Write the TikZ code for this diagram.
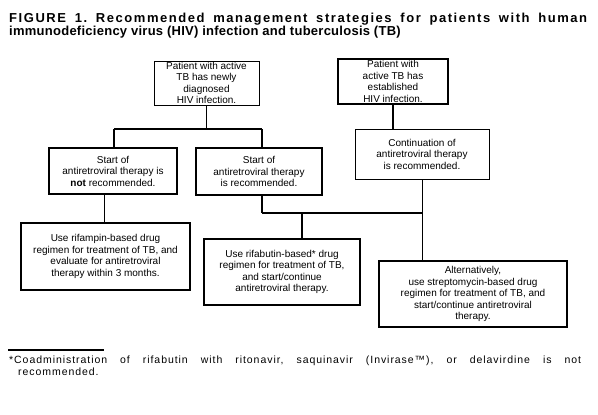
\documentclass[tikz,border=0pt]{standalone}
\usepackage{fontspec}
\setmainfont{Liberation Sans}
\newfontfamily\titlefont{Liberation Sans}[LetterSpace=2]
\newfontfamily\titlefontw{Liberation Sans}[LetterSpace=12]
\newfontfamily\notefont{Liberation Sans}[LetterSpace=9]
\frenchspacing
\begin{document}
\begin{tikzpicture}[x=1pt,y=-1pt,
  bx/.style={draw=black, align=center, inner sep=0pt, font=\fontsize{10}{11.5}\selectfont},
  thinb/.style={line width=0.8pt},
  medb/.style={line width=1.4pt},
  thickb/.style={line width=2pt},
  ln/.style={line width=0.8pt},
  lnm/.style={line width=1.3pt},
  lnt/.style={line width=2pt},
  ttl/.style={anchor=base west, inner sep=0pt, font=\titlefont\fontsize{13}{15}\selectfont\bfseries},
  ttlw/.style={anchor=base west, inner sep=0pt, font=\titlefontw\fontsize{13}{15}\selectfont\bfseries},
  fnote/.style={anchor=base west, inner sep=0pt, font=\notefont\fontsize{10.5}{12}\selectfont}]
\useasboundingbox (0,0) rectangle (598,415);
\fill[white] (0,0) rectangle (598,415);
% title
\node[ttlw] (t1) at (9,22)
  {\makebox[578pt][s]{FIGURE 1. Recommended management strategies for patients with human}};
\node[ttl] (t2) at (9,35)
  {immunodeficiency virus (HIV) infection and tuberculosis (TB)};
% boxes
\node[bx, thinb, minimum width=105pt, minimum height=44pt] (A) at (206.5,83)
  {Patient with active\\TB has newly\\diagnosed\\HIV infection.};
\node[bx, medb, minimum width=110pt, minimum height=45pt] (B) at (393,81.5)
  {Patient with\\active TB has\\established\\HIV infection.};
\node[bx, medb, minimum width=128pt, minimum height=46pt] (C) at (113,171)
  {Start of\\antiretroviral therapy is\\\textbf{not} recommended.};
\node[bx, medb, minimum width=126pt, minimum height=47pt] (D) at (259,171.5)
  {Start of\\antiretroviral therapy\\is recommended.};
\node[bx, thinb, minimum width=134pt, minimum height=50pt] (E) at (422,154)
  {Continuation of\\antiretroviral therapy\\is recommended.};
\node[bx, medb, minimum width=169pt, minimum height=67pt] (H) at (105.5,256.5)
  {Use rifampin-based drug\\regimen for treatment of TB, and\\evaluate for antiretroviral\\therapy within 3 months.};
\node[bx, thickb, minimum width=156pt, minimum height=66pt] (F) at (282,272)
  {Use rifabutin-based* drug\\regimen for treatment of TB,\\and start/continue\\antiretroviral therapy.};
\node[bx, medb, minimum width=188pt, minimum height=66pt] (G) at (473,294)
  {Alternatively,\\use streptomycin-based drug\\regimen for treatment of TB, and\\start/continue antiretroviral\\therapy.};
% junction coordinates
\coordinate (j1) at (206.5,129);
\coordinate (jl) at (114,129);
\coordinate (jr) at (262,129);
\coordinate (j2) at (262,213);
\coordinate (j3) at (302,213);
\coordinate (j4) at (422,213);
% connectors
\draw[ln] (A.south) -- (j1);
\draw[lnt] (jl) -- (jr);
\draw[lnm] (jl) -- (jl |- C.north);
\draw[lnm] (jr) -- (jr |- D.north);
\draw[ln] (C.south -| 104,0) -- (H.north -| 104,0);
\draw[lnt] (B.south) -- (B.south |- E.north);
\draw[ln] (E.south) -- (E.south |- G.north);
\draw[lnm] (D.south -| j2) -- (j2);
\draw[lnt] (j2) -- (j4);
\draw[lnt] (j3) -- (j3 |- F.north);
% footnote
\coordinate (r1) at (8,350);
\coordinate (r2) at (104,350);
\draw[lnt] (r1) -- (r2);
\node[fnote] (f1) at (9,363)
  {\makebox[572pt][s]{*Coadministration of rifabutin with ritonavir, saquinavir (Invirase™), or delavirdine is not}};
\node[fnote] (f2) at (18,375)
  {recommended.};
\end{tikzpicture}
\end{document}
